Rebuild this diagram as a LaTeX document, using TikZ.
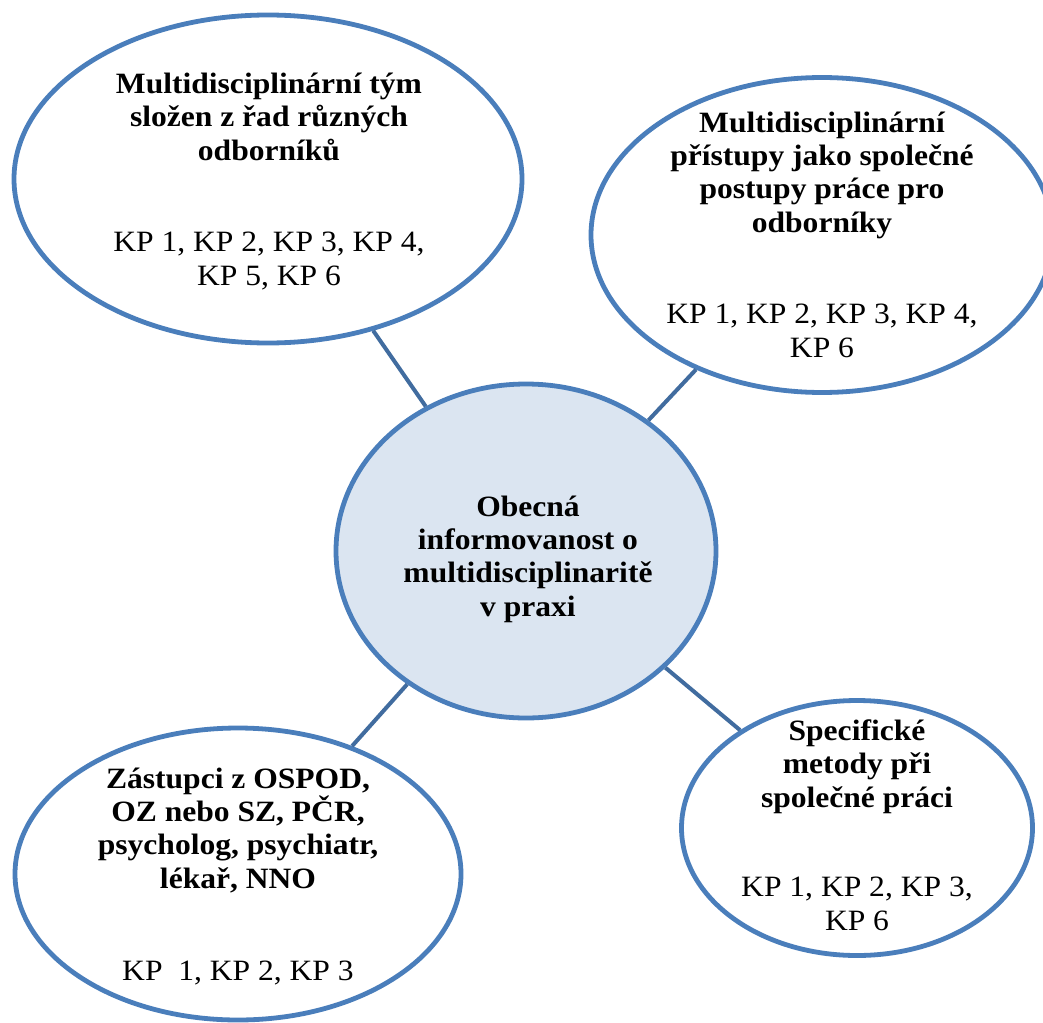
\documentclass[tikz,border=0pt]{standalone}
\usepackage{fontspec}
\setmainfont{Liberation Serif}[FakeStretch=1.07]
\usetikzlibrary{shapes.geometric}
\definecolor{rim}{HTML}{4A7EBB}
\definecolor{linkcol}{HTML}{416C9F}
\definecolor{hub}{HTML}{DBE5F1}
\begin{document}
\begin{tikzpicture}[x=1pt,y=-1pt,
  bubble/.style={ellipse, draw=rim, line width=4.8pt, fill=white, inner sep=0pt},
  title/.style={align=center, font=\fontsize{29.5}{33.2}\selectfont\bfseries, anchor=base, inner sep=0pt},
  kp/.style={align=center, font=\fontsize{29.5}{33.2}\selectfont, anchor=base, inner sep=0pt},
  connector/.style={draw=linkcol, line width=4pt}]
\useasboundingbox (0,0) rectangle (1043,1022);

% hub and the four surrounding bubbles
\node[bubble, fill=hub, minimum width=380pt, minimum height=334pt] (hubnode) at (526,551) {};
\node[bubble, minimum width=508pt, minimum height=328pt] (team) at (268,179) {};
\node[bubble, minimum width=462pt, minimum height=315pt] (approach) at (822,235) {};
\node[bubble, minimum width=446pt, minimum height=292pt] (reps) at (238,874) {};
\node[bubble, minimum width=351pt, minimum height=255pt] (methods) at (857,828) {};

% connectors between the hub and the bubbles
\draw[connector] (team) -- (hubnode);
\draw[connector] (approach) -- (hubnode);
\draw[connector] (reps) -- (hubnode);
\draw[connector] (methods) -- (hubnode);

% texts (placed by the baseline of their last line)
\node[title] (hubtext) at (528,616) {Obecná\\informovanost o\\multidisciplinaritě\\v praxi};

\node[title] (teamtitle) at (269,160) {Multidisciplinární tým\\složen z řad různých\\odborníků};
\node[kp] (teamkp) at (269,285) {KP 1, KP 2, KP 3, KP 4,\\KP 5, KP 6};

\node[title] (approachtitle) at (822,232) {Multidisciplinární\\přístupy jako společné\\postupy práce pro\\odborníky};
\node[kp] (approachkp) at (822,357) {KP 1, KP 2, KP 3, KP 4,\\KP 6};

\node[title] (repstitle) at (238,888) {Zástupci z OSPOD,\\OZ nebo SZ, PČR,\\psycholog, psychiatr,\\lékař, NNO};
\node[kp] (repskp) at (238,980) {KP\ \ 1, KP 2, KP 3};

\node[title] (methodstitle) at (857,807) {Specifické\\metody při\\společné práci};
\node[kp] (methodskp) at (857,930) {KP 1, KP 2, KP 3,\\KP 6};
\end{tikzpicture}
\end{document}
